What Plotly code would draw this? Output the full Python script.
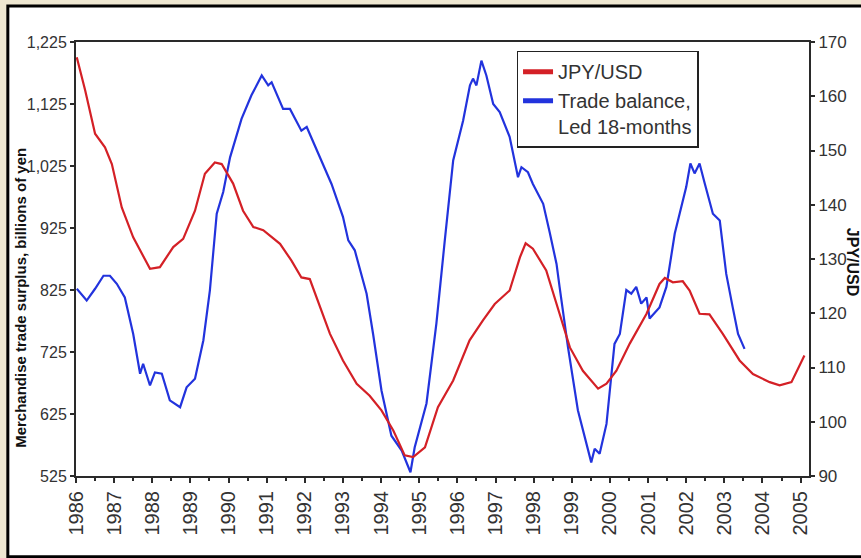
import plotly.graph_objects as go

# ---- data ----
jpy_years = [1986.02, 1986.24, 1986.50, 1986.76, 1986.94, 1987.20, 1987.50, 1987.72, 1987.94, 1988.20,
             1988.55, 1988.81, 1989.12, 1989.38, 1989.64, 1989.82, 1990.12, 1990.38, 1990.65, 1990.91,
             1991.35, 1991.65, 1991.91, 1992.13, 1992.39, 1992.66, 1993.00, 1993.36, 1993.70, 1994.01,
             1994.32, 1994.62, 1994.84, 1995.15, 1995.49, 1995.89, 1996.32, 1996.67, 1996.98, 1997.37,
             1997.64, 1997.79, 1997.98, 1998.33, 1998.68, 1998.95, 1999.29, 1999.69, 1999.91, 2000.17,
             2000.52, 2000.96, 2001.30, 2001.44, 2001.65, 2001.91, 2002.09, 2002.35, 2002.61, 2002.96,
             2003.40, 2003.75, 2004.19, 2004.45, 2004.76, 2005.10]
jpy_usd = [167.2, 161.1, 153.1, 150.6, 147.5, 139.5, 134.0, 131.0, 128.2, 128.5,
           132.2, 133.7, 138.9, 145.7, 147.8, 147.5, 143.9, 138.9, 135.9, 135.3,
           132.8, 129.7, 126.6, 126.3, 121.4, 116.2, 111.3, 107.0, 104.8, 102.1,
           98.4, 93.8, 93.5, 95.3, 102.7, 107.6, 115.0, 118.7, 121.7, 124.2,
           130.3, 132.9, 131.9, 127.9, 119.9, 113.7, 109.4, 106.1, 107.0, 109.4,
           114.4, 119.9, 125.4, 126.5, 125.7, 125.9, 124.2, 119.9, 119.8, 116.2,
           111.3, 108.8, 107.3, 106.7, 107.3, 112.2]

trade_years = [1986.02, 1986.28, 1986.50, 1986.72, 1986.89, 1987.07, 1987.28, 1987.50, 1987.68, 1987.76,
               1987.94, 1988.07, 1988.25, 1988.46, 1988.73, 1988.90, 1989.12, 1989.34, 1989.51, 1989.69,
               1989.86, 1990.04, 1990.34, 1990.60, 1990.87, 1991.04, 1991.13, 1991.43, 1991.61, 1991.91,
               1992.05, 1992.37, 1992.70, 1993.00, 1993.14, 1993.31, 1993.62, 1993.79, 1994.01, 1994.27,
               1994.54, 1994.77, 1994.88, 1995.19, 1995.45, 1995.67, 1995.89, 1996.15, 1996.33, 1996.41,
               1996.50, 1996.63, 1996.76, 1996.94, 1997.11, 1997.37, 1997.59, 1997.68, 1997.85, 1997.98,
               1998.25, 1998.42, 1998.60, 1998.68, 1998.90, 1999.16, 1999.51, 1999.60, 1999.73, 1999.91,
               2000.12, 2000.26, 2000.43, 2000.56, 2000.69, 2000.82, 2000.96, 2001.04, 2001.30, 2001.48,
               2001.70, 2002.00, 2002.11, 2002.22, 2002.35, 2002.49, 2002.70, 2002.88, 2003.05, 2003.22,
               2003.36, 2003.53]
trade_balance = [827, 808, 827, 848, 848, 835, 813, 754, 690, 706,
                 671, 692, 690, 647, 636, 668, 682, 744, 824, 948,
                 983, 1039, 1101, 1139, 1171, 1155, 1160, 1117, 1117, 1082,
                 1088, 1042, 996, 943, 905, 889, 819, 754, 663, 590,
                 566, 531, 571, 642, 771, 905, 1034, 1098, 1155, 1166,
                 1155, 1195, 1171, 1125, 1112, 1072, 1007, 1023, 1015, 996,
                 964, 918, 867, 830, 733, 631, 547, 569, 561, 609,
                 738, 754, 825, 819, 830, 803, 813, 779, 797, 830,
                 916, 991, 1029, 1013, 1029, 996, 948, 937, 851, 797,
                 754, 730]

left_ticks = [525, 625, 725, 825, 925, 1025, 1125, 1225]
right_ticks = [90, 100, 110, 120, 130, 140, 150, 160, 170]
year_ticks = list(range(1986, 2006))

RED = '#d42026'
BLUE = '#2233dd'
FONT = 'Liberation Sans, Arial, sans-serif'
AXIS = '#2a2a2a'

fig = go.Figure()

# real lines
fig.add_trace(go.Scatter(x=jpy_years, y=jpy_usd, mode='lines', yaxis='y2',
                         line=dict(color=RED, width=2.2), showlegend=False))
fig.add_trace(go.Scatter(x=trade_years, y=trade_balance, mode='lines',
                         line=dict(color=BLUE, width=2.2), showlegend=False))
# legend entries (thick swatches)
fig.add_trace(go.Scatter(x=[None], y=[None], mode='lines', name='JPY/USD',
                         line=dict(color=RED, width=5)))
fig.add_trace(go.Scatter(x=[None], y=[None], mode='lines', name='Trade balance,<br>Led 18-months',
                         line=dict(color=BLUE, width=5)))

fig.update_layout(
    width=861, height=558, autosize=False,
    margin=dict(l=76, r=52, t=42, b=82),
    paper_bgcolor='#eee7d1',
    plot_bgcolor='white',
    xaxis=dict(range=[1986, 2005.22], tickvals=year_ticks, tickangle=-90,
               ticks='outside', ticklen=5, tickcolor=AXIS, tickwidth=1.5,
               minor=dict(dtick=0.5, ticks='outside', ticklen=3, tickcolor=AXIS),
               showline=True, linecolor=AXIS, linewidth=2, mirror=True,
               showgrid=False, zeroline=False,
               tickfont=dict(family=FONT, size=20, color='#333')),
    yaxis=dict(range=[525, 1225], tickvals=left_ticks, tickformat=',',
               ticks='outside', ticklen=4, tickcolor=AXIS, tickwidth=1.5,
               showline=True, linecolor=AXIS, linewidth=2,
               showgrid=False, zeroline=False,
               tickfont=dict(family=FONT, size=16, color='#333')),
    yaxis2=dict(range=[90, 170], tickvals=right_ticks, overlaying='y', side='right',
                ticks='outside', ticklen=4, tickcolor=AXIS, tickwidth=1.5,
                showline=True, linecolor=AXIS, linewidth=2,
                showgrid=False, zeroline=False,
                tickfont=dict(family=FONT, size=17, color='#333')),
    legend=dict(x=0.601, y=0.98, xanchor='left', yanchor='top',
                bgcolor='white', bordercolor='#222', borderwidth=1.5,
                valign='top', tracegroupgap=0,
                font=dict(family=FONT, size=20, color='#333')),
    shapes=[dict(type='rect', xref='paper', yref='paper',
                 x0=-0.093, x1=1.12, y0=-0.186, y1=1.083,
                 line=dict(color='black', width=3), fillcolor='white', layer='below')],
    annotations=[
        dict(text='<b>Merchandise trade surplus, billions of yen</b>', xref='paper', yref='paper',
             x=-0.091, y=0.41, textangle=-90, showarrow=False,
             font=dict(family=FONT, size=15, color='#111')),
        dict(text='<b>JPY/USD</b>', xref='paper', yref='paper',
             x=1.074, y=0.494, textangle=90, showarrow=False,
             font=dict(family=FONT, size=16, color='#111')),
    ],
)

fig.write_html("out.html", post_script="document.body.style.margin='0';",
               config={'displayModeBar': False})
